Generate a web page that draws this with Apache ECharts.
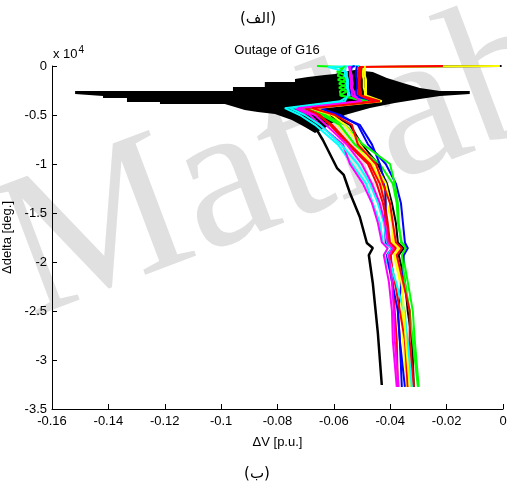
<!DOCTYPE html>
<html>
<head>
<meta charset="utf-8">
<script src="https://cdn.jsdelivr.net/npm/echarts@6/dist/echarts.min.js"></script>
<style>
  html, body { margin: 0; padding: 0; background: #fff; }
  #chart { width: 507px; height: 484px; }
</style>
</head>
<body>
<div id="chart"></div>
<script>
// y levels shared by the bundle traces (unit: x 10^4 deg)
var levelY = [0, -0.01, -0.06, -0.1, -0.14, -0.18, -0.22, -0.26, -0.3, -0.36, -0.43, -0.5, -0.6, -0.8, -1.0, -1.2, -1.4, -1.6, -1.8, -1.86, -1.93, -2.2, -2.5, -2.8, -3.275];

// ΔV of each trace at the levels above
var blackB = [-0.0005, -0.0501, -0.0501, -0.0501, -0.0504, -0.0504, -0.0504, -0.0501, -0.0501, -0.0451, -0.0667, -0.0604, -0.0543, -0.0501, -0.0444, -0.0412, -0.0394, -0.0380, -0.0373, -0.0352, -0.0370, -0.0348, -0.0338, -0.0323, -0.0316];
var yellow1 = [-0.0011, -0.0494, -0.0497, -0.0497, -0.0494, -0.0494, -0.0494, -0.0490, -0.0490, -0.0448, -0.0685, -0.0621, -0.0586, -0.0526, -0.0465, -0.0430, -0.0412, -0.0394, -0.0391, -0.0370, -0.0387, -0.0366, -0.0359, -0.0355, -0.0341];
var red1 = [-0.0213, -0.0511, -0.0515, -0.0515, -0.0515, -0.0515, -0.0515, -0.0515, -0.0515, -0.0465, -0.0721, -0.0657, -0.0607, -0.0543, -0.0472, -0.0437, -0.0419, -0.0409, -0.0401, -0.0380, -0.0398, -0.0391, -0.0384, -0.0377, -0.0373];
var green1 = [-0.0660, -0.0568, -0.0589, -0.0557, -0.0586, -0.0550, -0.0582, -0.0554, -0.0579, -0.0490, -0.0703, -0.0643, -0.0579, -0.0526, -0.0437, -0.0391, -0.0377, -0.0373, -0.0359, -0.0338, -0.0355, -0.0338, -0.0320, -0.0313, -0.0299];
var cyan1 = [-0.0508, -0.0621, -0.0554, -0.0554, -0.0550, -0.0550, -0.0550, -0.0547, -0.0543, -0.0579, -0.0774, -0.0721, -0.0667, -0.0586, -0.0536, -0.0486, -0.0462, -0.0437, -0.0426, -0.0409, -0.0423, -0.0384, -0.0348, -0.0341, -0.0327];
var blue1 = [-0.0526, -0.0536, -0.0540, -0.0543, -0.0540, -0.0543, -0.0536, -0.0540, -0.0536, -0.0472, -0.0650, -0.0579, -0.0515, -0.0479, -0.0416, -0.0380, -0.0362, -0.0355, -0.0348, -0.0338, -0.0352, -0.0359, -0.0373, -0.0366, -0.0359];
var blue2 = [-0.0518, -0.0518, -0.0522, -0.0522, -0.0518, -0.0518, -0.0518, -0.0522, -0.0522, -0.0455, -0.0657, -0.0586, -0.0508, -0.0465, -0.0437, -0.0419, -0.0416, -0.0419, -0.0416, -0.0394, -0.0412, -0.0394, -0.0373, -0.0366, -0.0348];
var green2 = [-0.0561, -0.0561, -0.0579, -0.0586, -0.0557, -0.0582, -0.0554, -0.0579, -0.0575, -0.0479, -0.0714, -0.0632, -0.0561, -0.0497, -0.0401, -0.0384, -0.0373, -0.0370, -0.0362, -0.0345, -0.0359, -0.0348, -0.0331, -0.0320, -0.0302];
var red2 = [-0.0508, -0.0508, -0.0508, -0.0508, -0.0511, -0.0511, -0.0511, -0.0508, -0.0508, -0.0458, -0.0703, -0.0650, -0.0614, -0.0550, -0.0479, -0.0448, -0.0426, -0.0412, -0.0405, -0.0387, -0.0401, -0.0384, -0.0366, -0.0348, -0.0338];
var magenta1 = [-0.0543, -0.0543, -0.0540, -0.0536, -0.0536, -0.0533, -0.0536, -0.0529, -0.0526, -0.0508, -0.0738, -0.0685, -0.0650, -0.0568, -0.0543, -0.0497, -0.0465, -0.0444, -0.0430, -0.0409, -0.0423, -0.0405, -0.0394, -0.0391, -0.0377];
var cyan2 = [-0.0557, -0.0557, -0.0561, -0.0561, -0.0554, -0.0554, -0.0554, -0.0550, -0.0550, -0.0561, -0.0756, -0.0703, -0.0650, -0.0575, -0.0515, -0.0472, -0.0444, -0.0423, -0.0412, -0.0394, -0.0409, -0.0380, -0.0352, -0.0338, -0.0323];
var yellow2 = [-0.0490, -0.0490, -0.0490, -0.0490, -0.0486, -0.0486, -0.0486, -0.0486, -0.0486, -0.0430, -0.0667, -0.0607, -0.0561, -0.0508, -0.0455, -0.0416, -0.0401, -0.0391, -0.0384, -0.0366, -0.0380, -0.0359, -0.0352, -0.0345, -0.0331];
var magenta2 = [-0.0547, -0.0547, -0.0543, -0.0543, -0.0540, -0.0540, -0.0540, -0.0536, -0.0536, -0.0501, -0.0728, -0.0667, -0.0628, -0.0554, -0.0501, -0.0465, -0.0437, -0.0419, -0.0409, -0.0391, -0.0405, -0.0394, -0.0387, -0.0384, -0.0370];
var red3 = [-0.0504, -0.0504, -0.0504, -0.0504, -0.0508, -0.0508, -0.0508, -0.0504, -0.0504, -0.0437, -0.0678, -0.0596, -0.0536, -0.0515, -0.0451, -0.0426, -0.0401, -0.0391, -0.0380, -0.0359, -0.0377, -0.0355, -0.0331, -0.0331, -0.0316];

// the black outlier trace
var outlierX = [-0.0721, -0.0667, -0.0639, -0.0589, -0.0565, -0.0543, -0.0508, -0.0483, -0.0462, -0.0476, -0.0462, -0.0444, -0.0430];
var outlierY = [-0.531, -0.622, -0.755, -1.041, -1.112, -1.296, -1.541, -1.806, -1.857, -1.929, -2.214, -2.724, -3.255];

// outline of the black oscillation region
var blobX = [-0.1518, -0.0958, -0.0958, -0.0845, -0.0845, -0.0738, -0.0738, -0.0692, -0.0632, -0.0596, -0.0572, -0.0526, -0.0462, -0.0412, -0.0355, -0.0295, -0.0224, -0.0118,
             -0.0118, -0.0224, -0.0295, -0.0384, -0.0472, -0.0561, -0.0632, -0.0667, -0.0703, -0.0749, -0.0809, -0.0870, -0.0916, -0.0951, -0.0987, -0.1217, -0.1217, -0.1334, -0.1334, -0.1419, -0.1419, -0.1518];
var blobY = [-0.255, -0.255, -0.214, -0.214, -0.163, -0.163, -0.133, -0.112, -0.092, -0.082, -0.061, -0.041, -0.061, -0.122, -0.173, -0.224, -0.255, -0.255,
             -0.286, -0.306, -0.337, -0.378, -0.429, -0.5, -0.633, -0.684, -0.622, -0.551, -0.490, -0.469, -0.449, -0.418, -0.388, -0.388, -0.367, -0.367, -0.327, -0.327, -0.306, -0.286];

var traces = [
    { d: blackB, c: '#000000' },
    { d: yellow1, c: '#ffff00' },
    { d: red1, c: '#ff0000' },
    { d: green1, c: '#00ff00' },
    { d: cyan1, c: '#00ffff' },
    { d: blue1, c: '#0000ff' },
    { d: blue2, c: '#0000ff' },
    { d: green2, c: '#00ff00' },
    { d: red2, c: '#ff0000' },
    { d: magenta1, c: '#ff00ff' },
    { d: cyan2, c: '#00ffff' },
    { d: yellow2, c: '#ffff00' },
    { d: magenta2, c: '#ff00ff' },
    { d: red3, c: '#ff0000' }
];

var font = 'Liberation Sans, Arial, sans-serif';

var series = [
    {
        type: 'custom',
        silent: true,
        renderItem: function (params, api) {
            var pts = [];
            for (var i = 0; i < blobX.length; i++) {
                pts.push(api.coord([blobX[i], blobY[i]]));
            }
            return { type: 'polygon', shape: { points: pts }, style: { fill: '#000' } };
        },
        data: [[blobX[0], blobY[0]]],
        z: 2
    },
    {
        type: 'line',
        symbol: 'none',
        lineStyle: { color: '#000', width: 2.5 },
        data: outlierX.map(function (x, i) { return [x, outlierY[i]]; }),
        z: 2
    }
];
traces.forEach(function (t) {
    series.push({
        type: 'line',
        symbol: 'none',
        lineStyle: { color: t.c, width: 2 },
        data: t.d.map(function (x, i) { return [x, levelY[i]]; }),
        z: 3
    });
});

var chart = echarts.init(document.getElementById('chart'));
chart.setOption({
    animation: false,
    backgroundColor: '#fff',
    grid: { left: 52, right: 4, top: 66, bottom: 75, outerBoundsMode: 'none', containLabel: false },
    xAxis: {
        type: 'value',
        min: -0.16,
        max: 0,
        interval: 0.02,
        name: 'ΔV [p.u.]',
        nameLocation: 'middle',
        nameGap: 27,
        nameTextStyle: { color: '#000', fontFamily: font, fontSize: 13 },
        axisLine: { show: true, onZero: false, lineStyle: { color: '#000', width: 1 } },
        axisTick: { show: true, inside: true, length: 5, lineStyle: { color: '#000' } },
        axisLabel: {
            color: '#000', fontFamily: font, fontSize: 13, margin: 6,
            formatter: function (v) { return String(+v.toFixed(2)); }
        },
        splitLine: { show: false }
    },
    yAxis: {
        type: 'value',
        min: -3.5,
        max: 0,
        interval: 0.5,
        name: 'Δdelta [deg.]',
        nameLocation: 'middle',
        nameGap: 33,
        nameTextStyle: { color: '#000', fontFamily: font, fontSize: 13 },
        axisLine: { show: true, onZero: false, lineStyle: { color: '#000', width: 1 } },
        axisTick: { show: true, inside: true, length: 5, lineStyle: { color: '#000' } },
        axisLabel: {
            color: '#000', fontFamily: font, fontSize: 13, margin: 5,
            formatter: function (v) { return String(+v.toFixed(1)); }
        },
        splitLine: { show: false }
    },
    graphic: [
        {
            type: 'text',
            z: -10,
            x: 284,
            y: 165,
            rotation: 0.36,
            style: {
                text: 'Matlab',
                font: '205px "Liberation Serif", serif',
                fill: '#e0e0e0',
                align: 'center',
                verticalAlign: 'middle'
            }
        },
        {
            type: 'text', x: 258, y: 19,
            style: { text: '(الف)', font: '15px "DejaVu Sans", sans-serif', fill: '#000', align: 'center', verticalAlign: 'middle' }
        },
        {
            type: 'text', x: 257, y: 474,
            style: { text: '(ب)', font: '15px "DejaVu Sans", sans-serif', fill: '#000', align: 'center', verticalAlign: 'middle' }
        },
        {
            type: 'text', x: 277, y: 50,
            style: { text: 'Outage of G16', font: '13px ' + font, fill: '#000', align: 'center', verticalAlign: 'middle' }
        },
        {
            type: 'text', x: 53, y: 54,
            style: {
                text: 'x 10{s|4}',
                font: '13px ' + font,
                fill: '#000',
                align: 'left',
                verticalAlign: 'middle',
                rich: { s: { fontSize: 10, fontFamily: font, fill: '#000', verticalAlign: 'top', padding: [0, 0, 8, 1] } }
            }
        }
    ],
    series: series
});
</script>
</body>
</html>
